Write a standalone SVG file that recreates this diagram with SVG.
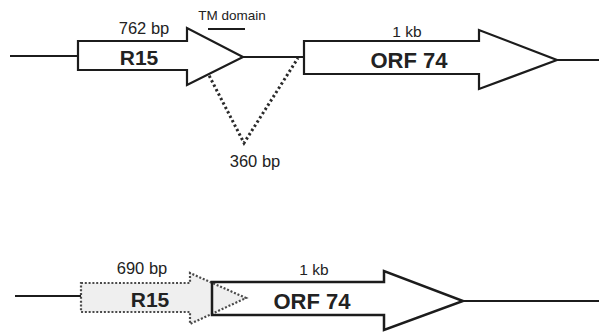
<svg xmlns="http://www.w3.org/2000/svg" width="599" height="333" viewBox="0 0 599 333">
<style>
.bg{fill:#fff}
.ln{stroke:#1c1c1c;stroke-width:2.2;fill:none}
.arr{stroke:#1c1c1c;stroke-width:2.2;fill:#fff;stroke-linejoin:miter}
.dotarr{stroke:#4a4a4a;stroke-width:2.2;stroke-dasharray:2 1.8;fill:#efefef}
.dots{stroke:#2a2a2a;stroke-width:3;stroke-dasharray:2.4 2.6;fill:none}
.t{font-family:"Liberation Sans",Arial,sans-serif;fill:#222;text-anchor:middle}
.s{font-size:16.5px}
.k{font-size:15.5px}
.tm{font-size:13.5px}
.b{font-weight:bold}
</style>
<rect class="bg" x="0" y="0" width="599" height="333"/>
<g id="connectors">
<line class="ln" x1="10" y1="56" x2="78" y2="56"/>
<line class="ln" x1="243" y1="57" x2="304" y2="57"/>
<line class="ln" x1="557" y1="60" x2="599" y2="60"/>
<line class="ln" x1="208" y1="29" x2="245" y2="29"/>
<polyline class="dots" points="200,58 244,143 298,58"/>
<line class="ln" x1="15" y1="296" x2="81" y2="296"/>
<line class="ln" x1="463" y1="301" x2="599" y2="301"/>
</g>
<g id="r15-top">
<polygon class="arr" points="78,41 187,41 187,28 243,57 187,85 187,70 78,70"/>
<text class="t b" x="139" y="65" font-size="21">R15</text>
<text class="t s" x="144" y="34">762 bp</text>
</g>
<g id="tm-domain">
<text class="t tm" x="232" y="20">TM domain</text>
</g>
<g id="orf74-top">
<polygon class="arr" points="304,41 479,41 479,30 557,60 479,89 479,74 304,74"/>
<text class="t b" x="409" y="68" font-size="22">ORF 74</text>
<text class="t k" x="407" y="37">1 kb</text>
</g>
<g id="gap-360">
<text class="t s" x="255" y="167">360 bp</text>
</g>
<g id="r15-bottom">
<polygon class="dotarr" points="81,283 190,283 190,273 246,298 190,324 190,312 81,312"/>
<text class="t b" x="150" y="307" font-size="21">R15</text>
<text class="t s" x="142" y="274">690 bp</text>
</g>
<g id="orf74-bottom">
<polygon class="ln" style="stroke-width:2.5" points="212,282 384,282 384,271 463,301 384,330 384,315 212,315"/>
<text class="t b" x="312" y="309" font-size="22">ORF 74</text>
<text class="t k" x="314" y="275">1 kb</text>
</g>
</svg>
